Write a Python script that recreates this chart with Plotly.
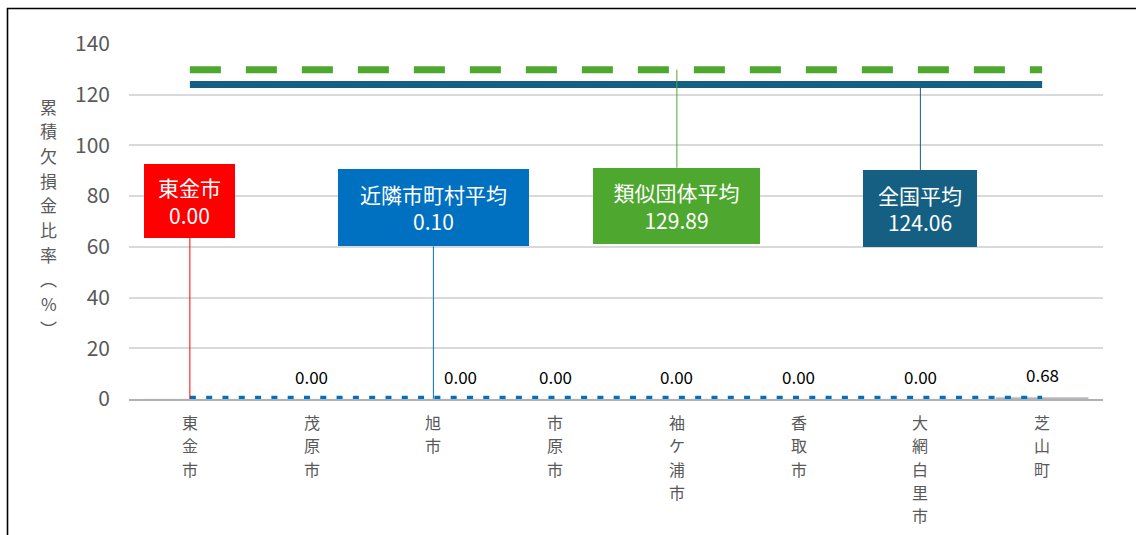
import plotly.graph_objects as go

# ---- data ----
categories = ["東金市", "茂原市", "旭市", "市原市", "袖ケ浦市", "香取市", "大網白里市", "芝山町"]
values = [0.00, 0.00, 0.00, 0.00, 0.00, 0.00, 0.00, 0.68]
value_labels = ["0.00", "0.00", "0.00", "0.00", "0.00", "0.00", "0.00", "0.68"]
neighbor_avg = 0.10
similar_avg = 129.89
national_avg = 124.06
y_ticks = [0, 20, 40, 60, 80, 100, 120, 140]
y_title_chars = ["累", "積", "欠", "損", "金", "比", "率", "︵", "%", "︶"]

FONT = "Noto Sans CJK JP, sans-serif"
GRAY = "#595959"

fig = go.Figure()

fig.add_trace(go.Bar(x=categories, y=values, marker_color="#A5A5A5",
                     showlegend=False, hoverinfo="skip"))
fig.add_trace(go.Scatter(x=categories, y=[neighbor_avg] * len(categories), mode="lines",
                         line=dict(color="#0070C0", width=6, dash="6px,10.3px"),
                         showlegend=False, hoverinfo="skip"))
fig.add_trace(go.Scatter(x=categories, y=[similar_avg] * len(categories), mode="lines",
                         line=dict(color="#4EA72E", width=7, dash="31px,25px"),
                         showlegend=False, hoverinfo="skip"))
fig.add_trace(go.Scatter(x=categories, y=[national_avg] * len(categories), mode="lines",
                         line=dict(color="#156082", width=7),
                         showlegend=False, hoverinfo="skip"))

annotations = []

# value labels (東金市 is shown by its callout)
label_xshift = {"旭市": 27}
for i, (c, v, t) in enumerate(zip(categories, values, value_labels)):
    if i == 0:
        continue
    annotations.append(dict(x=c, y=v, text=t, showarrow=False, yanchor="middle",
                            yshift=23, xshift=label_xshift.get(c, 0),
                            font=dict(family=FONT, size=17, color="#000000")))

# vertical category labels (one character per annotation, stacked)
X_PITCH = 23.3
for c in categories:
    for j, ch in enumerate(c):
        annotations.append(dict(x=c, y=0, xref="x", yref="paper", text=ch,
                                showarrow=False, yanchor="middle", xanchor="center",
                                yshift=-(23 + j * X_PITCH),
                                font=dict(family=FONT, size=16, color=GRAY)))

# vertical y-axis title
Y_PITCH = 24.7
for j, ch in enumerate(y_title_chars):
    annotations.append(dict(x=0, y=1, xref="paper", yref="paper", text=ch, showarrow=False,
                            xanchor="center", yanchor="middle", xshift=-80.5,
                            yshift=-(62 + j * Y_PITCH),
                            font=dict(family=FONT, size=17, color=GRAY)))

# callouts
callouts = [
    dict(x=categories[0], y=values[0], text=f"{categories[0]}<br>{values[0]:.2f}",
         color="#FF0000", ay=-198, w=91, h=74),
    dict(x=categories[2], y=neighbor_avg, text=f"近隣市町村平均<br>{neighbor_avg:.2f}",
         color="#0070C0", ay=-191, w=191, h=77),
    dict(x=categories[4], y=similar_avg, text=f"類似団体平均<br>{similar_avg:.2f}",
         color="#4EA72E", ay=136, w=167, h=76),
    dict(x=categories[6], y=national_avg, text=f"全国平均<br>{national_avg:.2f}",
         color="#156082", ay=124, w=114, h=77),
]
for co in callouts:
    annotations.append(dict(x=co["x"], y=co["y"], text=co["text"], showarrow=True,
                            arrowhead=0, arrowwidth=1, arrowcolor=co["color"],
                            ax=0, ay=co["ay"], bgcolor=co["color"], borderpad=0,
                            borderwidth=0, width=co["w"], height=co["h"],
                            font=dict(family=FONT, size=21, color="#FFFFFF")))

fig.update_layout(
    width=1136, height=535,
    margin=dict(l=129, r=33, t=44, b=136),
    paper_bgcolor="white", plot_bgcolor="white",
    bargap=0.24,
    annotations=annotations,
    shapes=[dict(type="rect", xref="paper", yref="paper",
                 x0=(7.5 - 129) / 974, x1=(1145 - 129) / 974,
                 y0=(399 - 545) / 355, y1=(399 - 8.5) / 355,
                 line=dict(color="#000000", width=1.6), fillcolor="rgba(0,0,0,0)")],
    xaxis=dict(type="category", range=[-0.5, len(categories) - 0.5], showgrid=False,
               showline=True, linecolor="#B0B0B0", linewidth=1.5, ticks="",
               showticklabels=False, fixedrange=True),
    yaxis=dict(range=[0, 140], tickvals=y_ticks, showgrid=True, gridcolor="#D9D9D9",
               gridwidth=1.5, zeroline=False, showline=False, ticks="",
               ticklabelstandoff=18, tickfont=dict(family=FONT, size=21, color=GRAY),
               fixedrange=True),
)

fig.write_html("out.html")
